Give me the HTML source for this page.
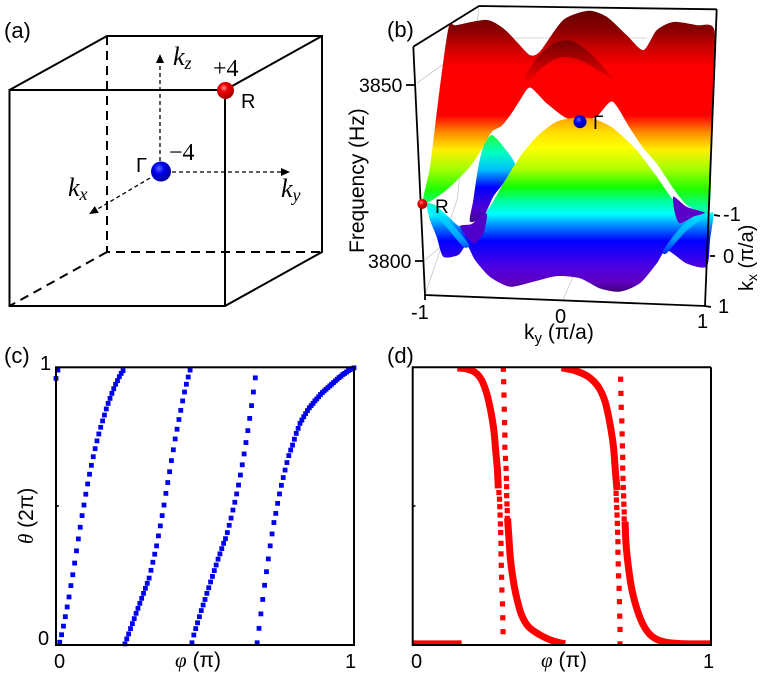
<!DOCTYPE html>
<html lang="en">
<head>
<meta charset="utf-8">
<title>Band structure figure</title>
<style>
html,body{margin:0;padding:0;background:#fff;}
svg{display:block;}
text{font-family:"Liberation Sans",sans-serif;fill:#000;}
.serif{font-family:"Liberation Serif",serif;font-style:italic;}
.plabel{font-size:22px;}
.tick{font-size:20px;}
</style>
</head>
<body>
<svg id="fig" width="761" height="682" viewBox="0 0 761 682" xmlns="http://www.w3.org/2000/svg">
<defs>
<radialGradient id="redBall" cx="40%" cy="35%" r="65%"><stop offset="0" stop-color="#ff9a9a"/><stop offset=".35" stop-color="#f00000"/><stop offset="1" stop-color="#a00000"/></radialGradient>
<radialGradient id="blueBall" cx="40%" cy="35%" r="65%"><stop offset="0" stop-color="#5a6aff"/><stop offset=".4" stop-color="#0000ee"/><stop offset="1" stop-color="#0000a0"/></radialGradient>
<marker id="arrowHead" markerWidth="10" markerHeight="10" refX="1" refY="4" orient="auto" markerUnits="userSpaceOnUse"><path d="M0,0 L9,4 L0,8 Z" fill="#000"/></marker>
<linearGradient id="rainbowUpper" gradientUnits="userSpaceOnUse" x1="0" y1="10" x2="0" y2="295">
<stop offset="0" stop-color="#640000"/><stop offset=".07" stop-color="#8a0000"/><stop offset=".14" stop-color="#d00000"/><stop offset=".2" stop-color="#ff0000"/><stop offset=".37" stop-color="#ff0000"/><stop offset=".43" stop-color="#ff8c00"/><stop offset=".49" stop-color="#ffee00"/><stop offset=".56" stop-color="#a0ff00"/><stop offset=".63" stop-color="#20ff00"/><stop offset=".7" stop-color="#00ffb0"/><stop offset="1" stop-color="#00ffff"/>
</linearGradient>
<linearGradient id="rainbowDome" gradientUnits="userSpaceOnUse" x1="0" y1="115" x2="0" y2="295">
<stop offset="0" stop-color="#ff9800"/><stop offset=".1" stop-color="#ffe000"/><stop offset=".18" stop-color="#ffff00"/><stop offset=".3" stop-color="#b0ff00"/><stop offset=".4" stop-color="#10ff00"/><stop offset=".48" stop-color="#00ffa0"/><stop offset=".55" stop-color="#00ffff"/><stop offset=".62" stop-color="#0080ff"/><stop offset=".7" stop-color="#0000ff"/><stop offset=".85" stop-color="#5000e0"/><stop offset=".93" stop-color="#6000c0"/><stop offset="1" stop-color="#300060"/>
</linearGradient>
<linearGradient id="rainbowLobe" gradientUnits="userSpaceOnUse" x1="0" y1="135" x2="0" y2="222">
<stop offset="0" stop-color="#20ff40"/><stop offset=".2" stop-color="#00ffc0"/><stop offset=".4" stop-color="#00c0ff"/><stop offset=".6" stop-color="#0000ff"/><stop offset=".85" stop-color="#5000d0"/><stop offset="1" stop-color="#400090"/>
</linearGradient>
<linearGradient id="humpShade" gradientUnits="userSpaceOnUse" x1="0" y1="40" x2="0" y2="85">
<stop offset="0" stop-color="#700000"/><stop offset=".5" stop-color="#b80000"/><stop offset="1" stop-color="#ff0000"/>
</linearGradient>
<linearGradient id="ridgeShade" gradientUnits="userSpaceOnUse" x1="0" y1="205" x2="0" y2="252">
<stop offset="0" stop-color="#00ffff"/><stop offset=".7" stop-color="#00a0ff"/><stop offset="1" stop-color="#0030ff"/>
</linearGradient>
<clipPath id="clipD"><rect x="412.7" y="367.3" width="298.3" height="277.7"/></clipPath>
</defs>

<!-- Panel (a) -->
<g id="panelA">
<text class="plabel" x="4" y="38">(a)</text>
<g fill="none" stroke="#000" stroke-width="2">
<rect x="9.5" y="90" width="215.5" height="216"/>
<path d="M9.5,90 L107,36 L322,36 L322,252 L225,306 M225,90 L322,36"/>
</g>
<path d="M107,36 V252 H322 M107,252 L9.5,306" fill="none" stroke="#000" stroke-width="2" stroke-dasharray="9 6"/>
<g fill="none" stroke="#000" stroke-width="1.3" stroke-dasharray="4 3">
<line x1="160" y1="168" x2="160" y2="62" marker-end="url(#arrowHead)"/>
<line x1="172" y1="172" x2="282" y2="172" marker-end="url(#arrowHead)"/>
<line x1="150" y1="178" x2="96" y2="210" marker-end="url(#arrowHead)"/>
</g>
<circle cx="225.5" cy="90.5" r="8.5" fill="url(#redBall)"/>
<circle cx="161" cy="171.5" r="10" fill="url(#blueBall)"/>
<text class="serif" x="173" y="65" font-size="26">k<tspan font-size="18" dy="4">z</tspan></text>
<text class="serif" x="68" y="196" font-size="26">k<tspan font-size="18" dy="4">x</tspan></text>
<text class="serif" x="281" y="197" font-size="26">k<tspan font-size="18" dy="4">y</tspan></text>
<text x="213" y="76" font-size="24" style="font-family:'Liberation Serif',serif">+4</text>
<text x="169" y="160" font-size="24" style="font-family:'Liberation Serif',serif">−4</text>
<text x="136" y="172" font-size="20">Γ</text>
<text x="241" y="108" font-size="20">R</text>
</g>

<!-- Panel (b) -->
<g id="panelB">
<text class="plabel" x="387" y="37">(b)</text>
<g stroke="#c8c8c8" stroke-width=".8" fill="none">
<path d="M479,6 L457,200 L425,295 M417,83 L480,38 L647,38 M425,260 L457,233 M563,300 L573,277"/>
</g>
<path d="M413.3,46.7 L479,6 L716.7,9.3" fill="none" stroke="#000" stroke-width="1.8"/>
<g id="surfaceLayer"></g>
<path d="M716.7,9.3 L705,306 L425,295 L413.3,46.7" fill="none" stroke="#000" stroke-width="1.8"/>
<g stroke="#000" stroke-width="1.8">
<line x1="406" y1="85" x2="415" y2="85"/><line x1="415" y1="261" x2="424" y2="261"/>
<line x1="425" y1="295" x2="425" y2="300"/><line x1="705" y1="306" x2="711" y2="307"/>
<line x1="710" y1="256" x2="715" y2="256"/><line x1="714" y1="215" x2="720" y2="216"/>
</g>
<circle cx="422.3" cy="204" r="5" fill="url(#redBall)"/>
<circle cx="580" cy="121.7" r="6.5" fill="url(#blueBall)"/>
<text x="593" y="129" font-size="19">Γ</text>
<text x="435" y="213" font-size="19">R</text>
<text x="359" y="92" font-size="19.5">3850</text>
<text x="368" y="268" font-size="19.5">3800</text>
<text x="0" y="0" font-size="21" transform="translate(364,253) rotate(-90)">Frequency (Hz)</text>
<text class="tick" x="411" y="319">-1</text>
<text class="tick" x="555" y="323">0</text>
<text class="tick" x="697" y="328">1</text>
<text x="524" y="339" font-size="21">k<tspan font-size="15" dy="4">y</tspan><tspan dy="-4"> (π/a)</tspan></text>
<text class="tick" x="723" y="221">-1</text>
<text class="tick" x="723" y="263">0</text>
<text class="tick" x="718" y="313">1</text>
<text x="0" y="0" font-size="20" transform="translate(753,291) rotate(-90)">k<tspan font-size="14" dy="4">x</tspan><tspan dy="-4"> (π/a)</tspan></text>
</g>

<!-- Panel (c) -->
<g id="panelC">
<text class="plabel" x="4" y="363">(c)</text>
<g id="marksC"></g>
<rect x="56" y="367.3" width="298" height="277.7" fill="none" stroke="#000" stroke-width="2"/>
<line x1="56" y1="506" x2="59" y2="506" stroke="#000" stroke-width="1.5"/>
<text class="tick" x="40" y="370">1</text>
<text class="tick" x="38" y="645">0</text>
<text class="tick" x="54" y="668">0</text>
<text class="tick" x="345" y="668">1</text>
<text x="175" y="667" font-size="21"><tspan class="serif">φ</tspan> (π)</text>
<text x="0" y="0" font-size="21" transform="translate(33,544) rotate(-90)"><tspan class="serif">θ</tspan> (2π)</text>
</g>

<!-- Panel (d) -->
<g id="panelD">
<text class="plabel" x="387" y="363">(d)</text>
<g id="marksD" clip-path="url(#clipD)"></g>
<path d="M711,367.3 H412.7 V645 H711 V367.3" fill="none" stroke="#000" stroke-width="2"/>
<line x1="412.7" y1="506" x2="415.5" y2="506" stroke="#000" stroke-width="1.5"/>
<text class="tick" x="411" y="668">0</text>
<text class="tick" x="703" y="668">1</text>
<text x="541" y="667" font-size="21"><tspan class="serif">φ</tspan> (π)</text>
</g>
</svg>

<script>
// ---------- Panel (b): surface silhouettes in (ky, frequency) ----------
const upperKy = [-1.012,-.964,-.905,-.833,-.774,-.56,-.44,-.345,-.25,-.179,-.012,.167,.298,.44,.56,.655,.774,.94,1.067,1.06,1.036,1,.869,.774,.655,.56,.464,.338,.226,.107,0,-.131,-.25,-.321,-.381,-.452,-.524,-.583,-.679,-.845];
const upperFreq = [3816.4,3826.8,3845.7,3866.1,3867,3868.5,3866.1,3862.3,3858.5,3859.5,3868.5,3871.1,3869.4,3864.2,3859.9,3865.6,3867.9,3867,3865.6,3845.7,3815.4,3813.5,3815.9,3820.6,3827.7,3832,3837.7,3845.3,3841,3839.6,3840.8,3844.8,3849.3,3845.7,3842,3838.4,3836.7,3832.5,3826.8,3820.2];
const humpKy = [-.298,-.202,-.083,.036,.155,.274,.345,.25,.131,.036,-.06,-.155,-.25];
const humpFreq = [3851.4,3857.6,3861.8,3862.6,3859.9,3855.2,3851.4,3853.8,3856.6,3857.9,3857.6,3855.2,3851.4];
const lobeKy = [-.524,-.44,-.357,-.44,-.512,-.583,-.679,-.655,-.619,-.583];
const lobeFreq = [3835.8,3832.5,3827.3,3822.1,3818.3,3812.6,3811.2,3817.3,3826.8,3832.5];
const domeKy = [.107,-.06,-.202,-.321,-.44,-.536,-.631,-.75,-.833,-.929,-.988,-.964,-.917,-.869,-.762,-.702,-.643,-.536,-.393,-.226,-.06,.107,.25,.393,.536,.655,.726,.869,1.012,1.036,1.06,1,.798,.655,.512,.345,.226];
const domeFreq = [3840.8,3839.6,3835.3,3829.6,3822.1,3815.4,3810.7,3809.8,3812.6,3815.9,3816.2,3811.6,3806.9,3801.2,3801.7,3804.5,3800.3,3795.5,3792.7,3794.1,3795.7,3795.1,3792.2,3791.3,3793.7,3799.3,3803.1,3799.3,3798.4,3806,3813.5,3813.5,3816.4,3824,3831.5,3837.7,3840.1];
const wedgeRightKy = [.774,.869,1,.917,.821,.786];
const wedgeRightFreq = [3818.3,3815.4,3813.7,3812.6,3810.7,3813.5];
const wedgeLeftKy = [-.75,-.667,-.56,-.583,-.655];
const wedgeLeftFreq = [3809.8,3810.5,3813.5,3807.9,3805];
const ridgeLeftKy = [-.976,-.845,-.69,-.726,-.869,-.964];
const ridgeLeftFreq = [3815.9,3812.1,3805,3804,3810.7,3814.3];
const ridgeRightKy = [.988,.833,.702,.726,.857,1];
const ridgeRightFreq = [3813.5,3809.8,3803.1,3802.2,3808.2,3812.6];

// ---------- Panel (c): theta sampled on a uniform phi grid ----------
const phiStepC = 0.00625;
const thetaC = [
.96,.99,.01,.037,.068,.102,.137,.173,.214,.253,.295,.339,.382,.424,.466,.504,.543,.58,.615,.647,.678,.707,.735,.76,.784,.807,.828,.85,.87,.888,.906,.923,.939,.952,.966,.978,.988,
.004,.022,.04,.059,.077,.095,.114,.132,.15,.168,.186,.204,.222,.241,.269,.298,.327,.357,.393,.429,.466,.504,.546,.585,.624,.664,.703,.742,.777,.812,.845,.879,.911,.939,.965,.99,
.008,.036,.059,.08,.102,.124,.144,.164,.186,.206,.227,.247,.268,.288,.309,.328,.347,.366,.383,.405,.431,.457,.486,.514,.544,.576,.612,.649,.688,.729,.772,.816,.862,.911,.962,
.008,.06,.112,.164,.215,.264,.31,.357,.4,.441,.474,.51,.544,.575,.603,.63,.657,.682,.702,.72,.741,.762,.78,.798,.81,.822,.833,.844,.854,.862,.87,.879,.886,.894,.902,.909,.915,.921,.927,.933,.939,.945,.951,.957,.963,.968,.974,.978,.983,.988,.992,.995,.998
];

// ---------- Panel (d) ----------
const flatPhi = [0,.164];
const flatTheta = [.004,.004];
const curveA1Phi = [.15,.181,.209,.231,.248,.261,.272,.278,.284,.287];
const curveA1Theta = [.998,.994,.982,.954,.906,.846,.774,.702,.63,.564];
const curveA2Phi = [.318,.323,.328,.337,.349,.365,.388,.427,.472,.511];
const curveA2Theta = [.456,.378,.306,.234,.168,.108,.066,.036,.014,.004];
const curveB1Phi = [.499,.544,.589,.622,.645,.661,.673,.68,.685];
const curveB1Theta = [.998,.988,.966,.93,.876,.798,.714,.618,.558];
const curveB2Phi = [.712,.715,.723,.734,.751,.773,.801,.84,.896,1];
const curveB2Theta = [.444,.366,.282,.204,.132,.072,.032,.012,.005,.004];
const dotsPhi = [.289,.291,.292,.293,.294,.295,.296,.296,.297,.298,.299,.301,.302,.303,
.304,.305,.306,.307,.308,.309,.309,.311,.313,.314,.315,.315,.316,.317,.317,
.682,.683,.684,.685,.686,.687,.688,.688,.689,.69,.692,.693,.694,.695,.695,
.697,.698,.699,.701,.702,.703,.704,.704,.705,.706,.707,.708,.709,.709];
const dotsTheta = [.549,.525,.498,.468,.436,.405,.366,.328,.287,.244,.198,.148,.098,.048,
.993,.948,.9,.849,.801,.756,.712,.672,.636,.6,.57,.538,.508,.484,.456,
.546,.522,.495,.468,.438,.406,.372,.334,.292,.249,.204,.156,.104,.056,.004,
.957,.906,.856,.807,.76,.717,.676,.637,.6,.567,.537,.507,.479,.454];

const NS = 'http://www.w3.org/2000/svg';

// Axis functions
function kyX(v){ return 425 + (v + 1) * 140; }
function freqY(v){ return 261 - (v - 3800) * 3.52; }
function phiXC(v){ return 56 + v * 298; }
function thetaYC(v){ return 645 - v * 277.7; }
function phiXD(v){ return 412.7 + v * 298.3; }
function thetaYD(v){ return 645 - v * 277.7; }

// Catmull-Rom smoothing of mapped data points
function smoothPath(xs, ys, fx, fy, closed, k){
  const px = xs.map(fx);
  const py = ys.map(fy);
  const n = px.length;
  function at(i){
    if (closed) { const j = (i + n) % n; return [px[j], py[j]]; }
    const j = Math.max(0, Math.min(n - 1, i));
    return [px[j], py[j]];
  }
  let d = 'M' + px[0].toFixed(2) + ',' + py[0].toFixed(2);
  const segs = closed ? n : n - 1;
  for (let i = 0; i < segs; i++) {
    const p0 = at(i - 1), p1 = at(i), p2 = at(i + 1), p3 = at(i + 2);
    const c1x = p1[0] + (p2[0] - p0[0]) * k, c1y = p1[1] + (p2[1] - p0[1]) * k;
    const c2x = p2[0] - (p3[0] - p1[0]) * k, c2y = p2[1] - (p3[1] - p1[1]) * k;
    d += ' C' + c1x.toFixed(2) + ',' + c1y.toFixed(2) + ' ' + c2x.toFixed(2) + ',' + c2y.toFixed(2) + ' ' + p2[0].toFixed(2) + ',' + p2[1].toFixed(2);
  }
  return closed ? d + ' Z' : d;
}

// Surface
const surfaceLayer = document.getElementById('surfaceLayer');
function addSurface(name, xs, ys, fill){
  const p = document.createElementNS(NS, 'path');
  p.setAttribute('d', smoothPath(xs, ys, kyX, freqY, true, 0.12));
  p.setAttribute('fill', fill);
  
  
  surfaceLayer.appendChild(p);
}
addSurface('upper-band-surface', upperKy, upperFreq, 'url(#rainbowUpper)');
addSurface('upper-band-ridge-shade', humpKy, humpFreq, 'url(#humpShade)');
addSurface('lower-band-back-lobe', lobeKy, lobeFreq, 'url(#rainbowLobe)');
addSurface('lower-band-dome', domeKy, domeFreq, 'url(#rainbowDome)');
addSurface('lower-band-right-wedge', wedgeRightKy, wedgeRightFreq, '#5a00c8');
addSurface('lower-band-left-wedge', wedgeLeftKy, wedgeLeftFreq, '#5000c8');
addSurface('lower-band-left-ridge', ridgeLeftKy, ridgeLeftFreq, 'url(#ridgeShade)');
addSurface('lower-band-right-ridge', ridgeRightKy, ridgeRightFreq, 'url(#ridgeShade)');

// Panel c markers
const marksC = document.getElementById('marksC');
const sizeC = 4.8;
thetaC.forEach(function(t, i){
  const r = document.createElementNS(NS, 'rect');
  r.setAttribute('x', phiXC(i * phiStepC) - sizeC / 2);
  r.setAttribute('y', thetaYC(t) - sizeC / 2);
  r.setAttribute('width', sizeC);
  r.setAttribute('height', sizeC);
  r.setAttribute('fill', '#0000f0');
  
  
  marksC.appendChild(r);
});

// Panel d curves and dots
const marksD = document.getElementById('marksD');
function addCurve(name, xs, ys){
  const l = document.createElementNS(NS, 'path');
  l.setAttribute('d', smoothPath(xs, ys, phiXD, thetaYD, false, 1 / 6));
  l.setAttribute('fill', 'none');
  l.setAttribute('stroke', '#ff0000');
  l.setAttribute('stroke-width', '7');
  l.setAttribute('stroke-linejoin', 'round');
  
  
  marksD.appendChild(l);
}
addCurve('flat-branch', flatPhi, flatTheta);
addCurve('curve-a-upper', curveA1Phi, curveA1Theta);
addCurve('curve-a-lower', curveA2Phi, curveA2Theta);
addCurve('curve-b-upper', curveB1Phi, curveB1Theta);
addCurve('curve-b-lower', curveB2Phi, curveB2Theta);
const sizeD = 5.2;
dotsPhi.forEach(function(p, i){
  const r = document.createElementNS(NS, 'rect');
  r.setAttribute('x', phiXD(p) - sizeD / 2);
  r.setAttribute('y', thetaYD(dotsTheta[i]) - sizeD / 2);
  r.setAttribute('width', sizeD);
  r.setAttribute('height', sizeD);
  r.setAttribute('fill', '#ff0000');
  
  
  marksD.appendChild(r);
});
</script>
</body>
</html>
